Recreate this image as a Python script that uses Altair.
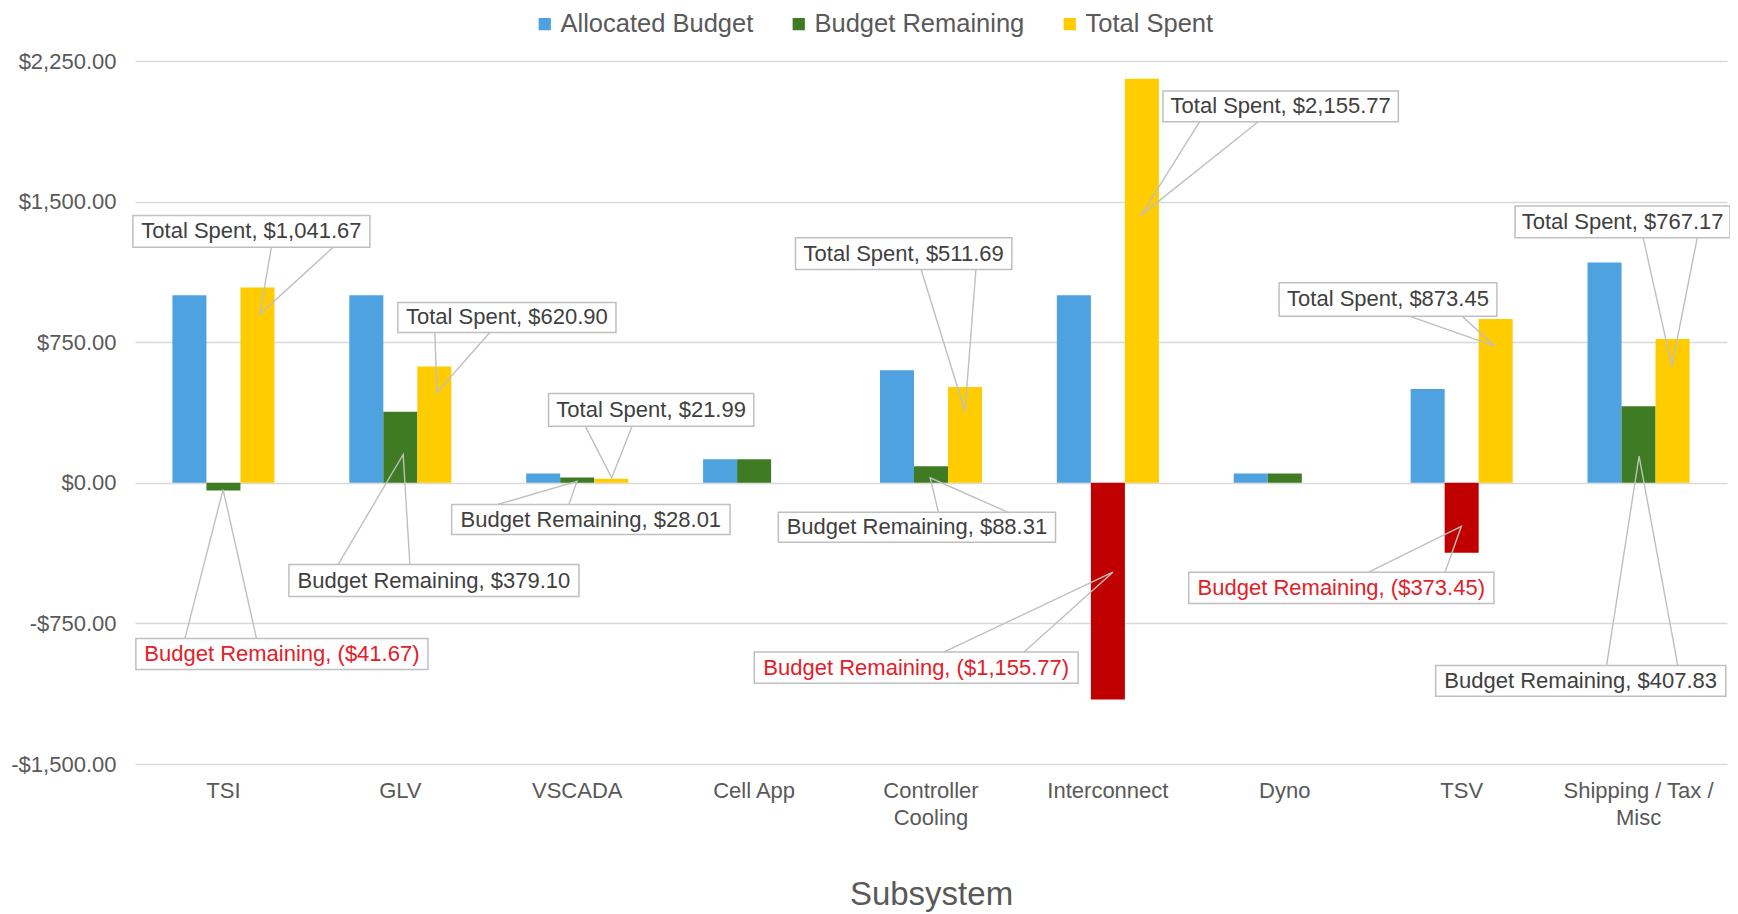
import altair as alt
import pandas as pd

# ---------------- data ----------------
categories = ["TSI", "GLV", "VSCADA", "Cell App", "Controller Cooling",
              "Interconnect", "Dyno", "TSV", "Shipping / Tax / Misc"]
series_names = ["Allocated Budget", "Budget Remaining", "Total Spent"]
allocated = [1000, 1000, 50, 125, 600, 1000, 50, 500, 1175]
remaining = [-41.67, 379.10, 28.01, 125, 88.31, -1155.77, 50, -373.45, 407.83]
spent = [1041.67, 620.90, 21.99, 0, 511.69, 2155.77, 0, 873.45, 767.17]
# bars drawn in red in the original (over-budget highlight)
red_remaining = [False, False, False, False, False, True, False, True, False]
y_ticks = [-1500, -750, 0, 750, 1500, 2250]

# callout annotations: (category index, series, box left, box right, box top, box bottom,
#  leader base u1, base u2, anchor u, anchor value) in category units / dollars
ann_cat = [0, 1, 2, 4, 5, 7, 8, 0, 1, 2, 4, 5, 7, 8]
ann_series = ["Total Spent"] * 7 + ["Budget Remaining"] * 7
ann_x1 = [-0.012, 1.486, 2.338, 3.734, 5.811, 6.468, 7.802, 0.005, 0.870, 1.790, 3.637, 3.501, 5.957, 7.353]
ann_x2 = [1.328, 2.719, 3.498, 4.957, 7.142, 7.699, 9.017, 1.656, 2.510, 3.364, 5.204, 5.332, 7.682, 8.993]
ann_top = [1426, 962, 476, 1307, 2090, 1067, 1476, -831, -436, -116, -157, -903, -477, -975]
ann_bot = [1256, 802, 302, 1138, 1926, 889, 1307, -996, -607, -276, -317, -1069, -644, -1139]
ann_b1 = [0.771, 1.695, 2.545, 4.444, 6.019, 7.204, 8.526, 0.282, 1.148, 2.049, 4.542, 4.572, 6.974, 8.319]
ann_b2 = [1.120, 2.006, 2.810, 4.754, 6.350, 7.503, 8.832, 0.687, 1.554, 2.453, 4.934, 5.026, 7.406, 8.722]
ann_au = [0.706, 1.707, 2.695, 4.692, 5.688, 7.687, 8.688, 0.498, 1.516, 2.499, 4.495, 5.528, 7.498, 8.503]
ann_av = [899, 482, 27, 382, 1428, 729, 622, -36, 151, 8.5, 27, -477, -232, 142]

# ---------------- tables ----------------
values_by_series = {"Allocated Budget": allocated, "Budget Remaining": remaining, "Total Spent": spent}
rows = []
for s in series_names:
    for j, (c, v) in enumerate(zip(categories, values_by_series[s])):
        highlight = s == "Budget Remaining" and red_remaining[j]
        rows.append({"cat": c, "series": s, "value": v,
                     "ckey": "Over Budget" if highlight else s})
bars_df = pd.DataFrame(rows)


def money(v):
    return f"(${abs(v):,.2f})" if v < 0 else f"${v:,.2f}"


box_rows, line_rows = [], []
for i in range(len(ann_cat)):
    val = values_by_series[ann_series[i]][ann_cat[i]]
    box_rows.append({
        "id": i,
        "label": f"{ann_series[i]}, {money(val)}",
        "tcolor": "#E3202A" if val < 0 else "#404040",
        "x1": ann_x1[i], "x2": ann_x2[i], "y1": ann_top[i], "y2": ann_bot[i],
        "cx": (ann_x1[i] + ann_x2[i]) / 2, "cy": (ann_top[i] + ann_bot[i]) / 2,
    })
    bv = ann_top[i] if ann_av[i] > ann_top[i] else ann_bot[i]
    for seq, (u, v) in enumerate([(ann_b1[i], bv), (ann_au[i], ann_av[i]), (ann_b2[i], bv)]):
        line_rows.append({"id": i, "seq": seq, "u": u, "v": v})
box_df = pd.DataFrame(box_rows)
line_df = pd.DataFrame(line_rows)

FONT = "Liberation Sans"
ydom = [-1500, 2250]
W, H = 1592, 703

yscale = alt.Scale(domain=ydom, nice=False, zero=False)
uscale = alt.Scale(domain=[0, 9], nice=False, zero=False)

bars = alt.Chart(bars_df).mark_bar().encode(
    x=alt.X("cat:N", sort=categories, title="Subsystem",
            scale=alt.Scale(paddingInner=0.423, paddingOuter=0.2115),
            axis=alt.Axis(
                labelAngle=0, domain=False, ticks=False, grid=False, labelPadding=16,
                labelFontSize=22, labelColor="#595959", labelFont=FONT,
                labelLineHeight=27, labelBaseline="top",
                labelExpr="datum.label == 'Controller Cooling' ? ['Controller', 'Cooling'] : "
                          "(datum.label == 'Shipping / Tax / Misc' ? ['Shipping / Tax /', 'Misc'] : datum.label)",
                titleFontSize=33, titleFont=FONT, titleColor="#595959", titleFontWeight="normal",
                titleY=130, titleBaseline="middle")),
    xOffset=alt.XOffset("series:N", sort=series_names),
    y=alt.Y("value:Q", scale=yscale, title=None,
            axis=alt.Axis(values=y_ticks, domain=False, ticks=False, labelPadding=19,
                          labelFontSize=22, labelColor="#595959", labelFont=FONT,
                          gridColor="#D9D9D9", gridWidth=1.3,
                          labelExpr="datum.value < 0 ? '-$' + format(-datum.value, ',.2f') : '$' + format(datum.value, ',.2f')")),
    color=alt.Color("ckey:N",
                    scale=alt.Scale(domain=series_names + ["Over Budget"],
                                    range=["#4EA2E0", "#3F7B22", "#FFCC00", "#C00000"]),
                    legend=alt.Legend(values=series_names, title=None, orient="none",
                                      direction="horizontal", legendX=397, legendY=-50,
                                      labelFontSize=25.5, labelFont=FONT, labelColor="#595959",
                                      labelLimit=400,
                                      symbolType="square", symbolSize=150, symbolStrokeWidth=0,
                                      labelOffset=3, columnPadding=32, padding=0)),
)

leaders = alt.Chart(line_df).mark_line(color="#BFBFBF", strokeWidth=1.4).encode(
    x=alt.X("u:Q", scale=uscale, axis=None),
    y=alt.Y("v:Q", scale=yscale, axis=None),
    detail="id:N",
    order="seq:Q",
)

boxes = alt.Chart(box_df).mark_rect(fill="white", stroke="#BFBFBF", strokeWidth=1.5).encode(
    x=alt.X("x1:Q", scale=uscale, axis=None),
    x2="x2:Q",
    y=alt.Y("y1:Q", scale=yscale, axis=None),
    y2="y2:Q",
)

texts = alt.Chart(box_df).mark_text(fontSize=22, font=FONT, align="center", baseline="middle").encode(
    x=alt.X("cx:Q", scale=uscale, axis=None),
    y=alt.Y("cy:Q", scale=yscale, axis=None),
    text="label:N",
    color=alt.Color("tcolor:N", scale=None),
)

chart = alt.layer(bars, leaders, boxes, texts).resolve_scale(
    x="independent", y="independent"
).properties(
    width=W, height=H,
    background="white",
    autosize=alt.AutoSizeParams(type="none"),
    padding={"left": 127, "top": 53, "right": 3, "bottom": 150},
).configure_view(stroke=None, strokeWidth=0)

chart.save("out.html", embed_options={"renderer": "svg", "actions": False})
